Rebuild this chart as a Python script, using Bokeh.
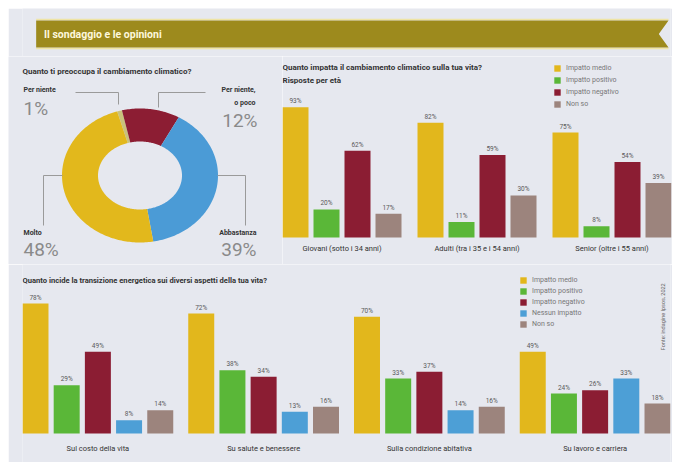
import numpy as np
from bokeh.plotting import figure
from bokeh.models import Range1d, FactorRange, ColumnDataSource, Legend, LegendItem
from bokeh.layouts import column, row
from bokeh.embed import file_html
from bokeh.resources import INLINE
from bokeh.core.properties import value

# ---------------- data ----------------
donut_labels = ["Per niente", "Per niente, o poco", "Abbastanza", "Molto"]
donut_values = [1, 12, 39, 48]
donut_colors = ["#c9c27c", "#8c1d33", "#4b9bd6", "#e2b81c"]

age_groups = ["Giovani (sotto i 34 anni)", "Adulti (tra i 35 e i 54 anni)", "Senior (oltre i 55 anni)"]
age_series = ["Impatto medio", "Impatto positivo", "Impatto negativo", "Non so"]
age_medio = [93, 82, 75]
age_positivo = [20, 11, 8]
age_negativo = [62, 59, 54]
age_nonso = [17, 30, 39]

asp_groups = ["Sul costo della vita", "Su salute e benessere", "Sulla condizione abitativa", "Su lavoro e carriera"]
asp_series = ["Impatto medio", "Impatto positivo", "Impatto negativo", "Nessun impatto", "Non so"]
asp_medio = [78, 72, 70, 49]
asp_positivo = [29, 38, 33, 24]
asp_negativo = [49, 34, 37, 26]
asp_nessuno = [8, 13, 14, 33]
asp_nonso = [14, 16, 16, 18]

YELLOW, GREEN, RED, BLUE, TAUPE = "#e2b71c", "#5ab738", "#8b1d33", "#4d9fd6", "#9c847d"
PANEL = "#e6e8ef"
FONT = "Roboto"
DARK = "#333333"


def base_fig(w, h, xr, yr, **kw):
    p = figure(width=w, height=h, x_range=xr, y_range=yr, output_backend="svg",
               toolbar_location=None, x_axis_location=None, y_axis_location=None,
               min_border=0, **kw)
    p.grid.visible = False
    p.outline_line_color = None
    p.background_fill_color = PANEL
    p.border_fill_color = PANEL
    return p


def txt(p, x, y, s, size, color=DARK, bold=False, align="left", baseline="middle", angle=0.0):
    p.text(x=[x], y=[y], text=[s], text_font=value(FONT), text_font_size=size,
           text_font_style="bold" if bold else "normal", text_color=color,
           text_align=align, text_baseline=baseline, angle=angle)


# ---------------- header ----------------
hdr = base_fig(664, 48, Range1d(0, 664), Range1d(48, 0))
hdr.line([14, 662], [11, 11], line_color="#efe4a4", line_width=1.5)
hdr.line([14, 662], [40, 40], line_color="#efe4a4", line_width=1.5)
hdr.patch([14, 662, 652, 662, 14], [12, 12, 25.5, 39, 39], fill_color="#9d8a1d", line_color=None)
txt(hdr, 22, 26, "Il sondaggio e le opinioni", "10.5px", color="#fdf8dc", bold=True)

# ---------------- donut ----------------
ROW_H = 208
dn = base_fig(274, ROW_H, Range1d(0, 274), Range1d(ROW_H, 0))
cx, cy = 131.5, 119
rxo, ryo, rxi, ryi = 78, 67, 42, 34
cum = -17.0
xs, ys = [], []
for v in donut_values:
    t = np.radians(np.linspace(cum, cum + v * 3.6, int(v * 3) + 4))
    ox, oy = cx + rxo * np.sin(t), cy - ryo * np.cos(t)
    ix, iy = cx + rxi * np.sin(t[::-1]), cy - ryi * np.cos(t[::-1])
    xs.append(list(np.concatenate([ox, ix])))
    ys.append(list(np.concatenate([oy, iy])))
    cum += v * 3.6
dn.patches(xs, ys, fill_color=donut_colors, line_color=None)

dn.multi_line(xs=[[67, 110, 110], [197, 150, 150], [54, 35, 35], [209, 237, 237]],
              ys=[[36, 36, 48], [36, 36, 51], [119, 119, 169], [119, 119, 169]],
              line_color="#9a9a9a", line_width=1)

txt(dn, 14, 15, "Quanto ti preoccupa il cambiamento climatico?", "8px", bold=True)
txt(dn, 15, 33, donut_labels[0], "7px", bold=True)
txt(dn, 15, 52, f"{donut_values[0]}%", "19px", color="#8a8a8a")
txt(dn, 247, 33, "Per niente,", "7px", bold=True, align="right")
txt(dn, 247, 46, "o poco", "7px", bold=True, align="right")
txt(dn, 249, 64, f"{donut_values[1]}%", "19px", color="#8a8a8a", align="right")
txt(dn, 15, 176, donut_labels[3], "7px", bold=True)
txt(dn, 15, 193, f"{donut_values[3]}%", "19px", color="#8a8a8a")
txt(dn, 248, 176, donut_labels[2], "7px", bold=True, align="right")
txt(dn, 248, 193, f"{donut_values[2]}%", "19px", color="#8a8a8a", align="right")


# ---------------- grouped bars helper ----------------
def bars(p, groups, series, values, colors, legend_loc, spacing):
    items = []
    for s, vals, col in zip(series, values, colors):
        src = ColumnDataSource(dict(x=[(g, s) for g in groups], top=vals,
                                    lab=[f"{v}%" for v in vals]))
        r = p.vbar(x="x", top="top", width=1.0, source=src, fill_color=col, line_color=None)
        p.text(x="x", y="top", text="lab", source=src, text_align="center",
               text_baseline="bottom", y_offset=-2, text_font_size="6.5px",
               text_color="#5a5a5a", text_font=value(FONT))
        items.append(LegendItem(label=s, renderers=[r]))
    leg = Legend(items=items, location=legend_loc, padding=0, margin=0, spacing=spacing,
                 glyph_width=8, glyph_height=8, label_height=9, label_standoff=5,
                 label_text_font_size="7px", label_text_color="#777777",
                 label_text_font=FONT, border_line_color=None, background_fill_alpha=0)
    p.add_layout(leg)


# ---------------- top bars ----------------
top_x = FactorRange(factors=[(g, s) for g in age_groups for s in age_series],
                    factor_padding=5 / 26, group_padding=16 / 26, range_padding=0)
tp = base_fig(390, ROW_H, top_x, Range1d(-19.3, 129.3), min_border_right=1)
bars(tp, age_groups, age_series, [age_medio, age_positivo, age_negativo, age_nonso],
     [YELLOW, GREEN, RED, TAUPE], (271, 156), 3)
tp.text(x=age_groups, y=[-7.9] * 3, text=age_groups, text_align="center", text_baseline="middle",
        text_font_size="7.5px", text_color=DARK, text_font=value(FONT))
txt(tp, 0.0, 121.4, "Quanto impatta il cambiamento climatico sulla tua vita?", "8px", bold=True)
txt(tp, 0.0, 112.1, "Risposte per età", "8px", bold=True)

# ---------------- bottom bars ----------------
bot_x = FactorRange(factors=[(g, s) for g in asp_groups for s in asp_series],
                    factor_padding=0.2, group_padding=15 / 26, range_padding=0)
bp = base_fig(664, 454 - 48 - ROW_H, bot_x, Range1d(-17.4, 101.4), min_border_left=14, min_border_right=2)
bars(bp, asp_groups, asp_series, [asp_medio, asp_positivo, asp_negativo, asp_nessuno, asp_nonso],
     [YELLOW, GREEN, RED, BLUE, TAUPE], (497, 134), 2)
bp.text(x=asp_groups, y=[-9.0] * 4, text=asp_groups, text_align="center", text_baseline="middle",
        text_font_size="7.5px", text_color=DARK, text_font=value(FONT))
txt(bp, 0.0, 91.8, "Quanto incide la transizione energetica sui diversi aspetti della tua vita?",
    "7.6px", bold=True)
txt(bp, 24.65, 70.0, "Fonte: indagine Ipsos, 2022", "5.5px", color="#666666",
    align="center", angle=np.pi / 2)

layout = column(hdr, row(dn, tp), bp, margin=(8, 5, 4, 8))

open("out.html", "w").write(file_html(layout, INLINE))
